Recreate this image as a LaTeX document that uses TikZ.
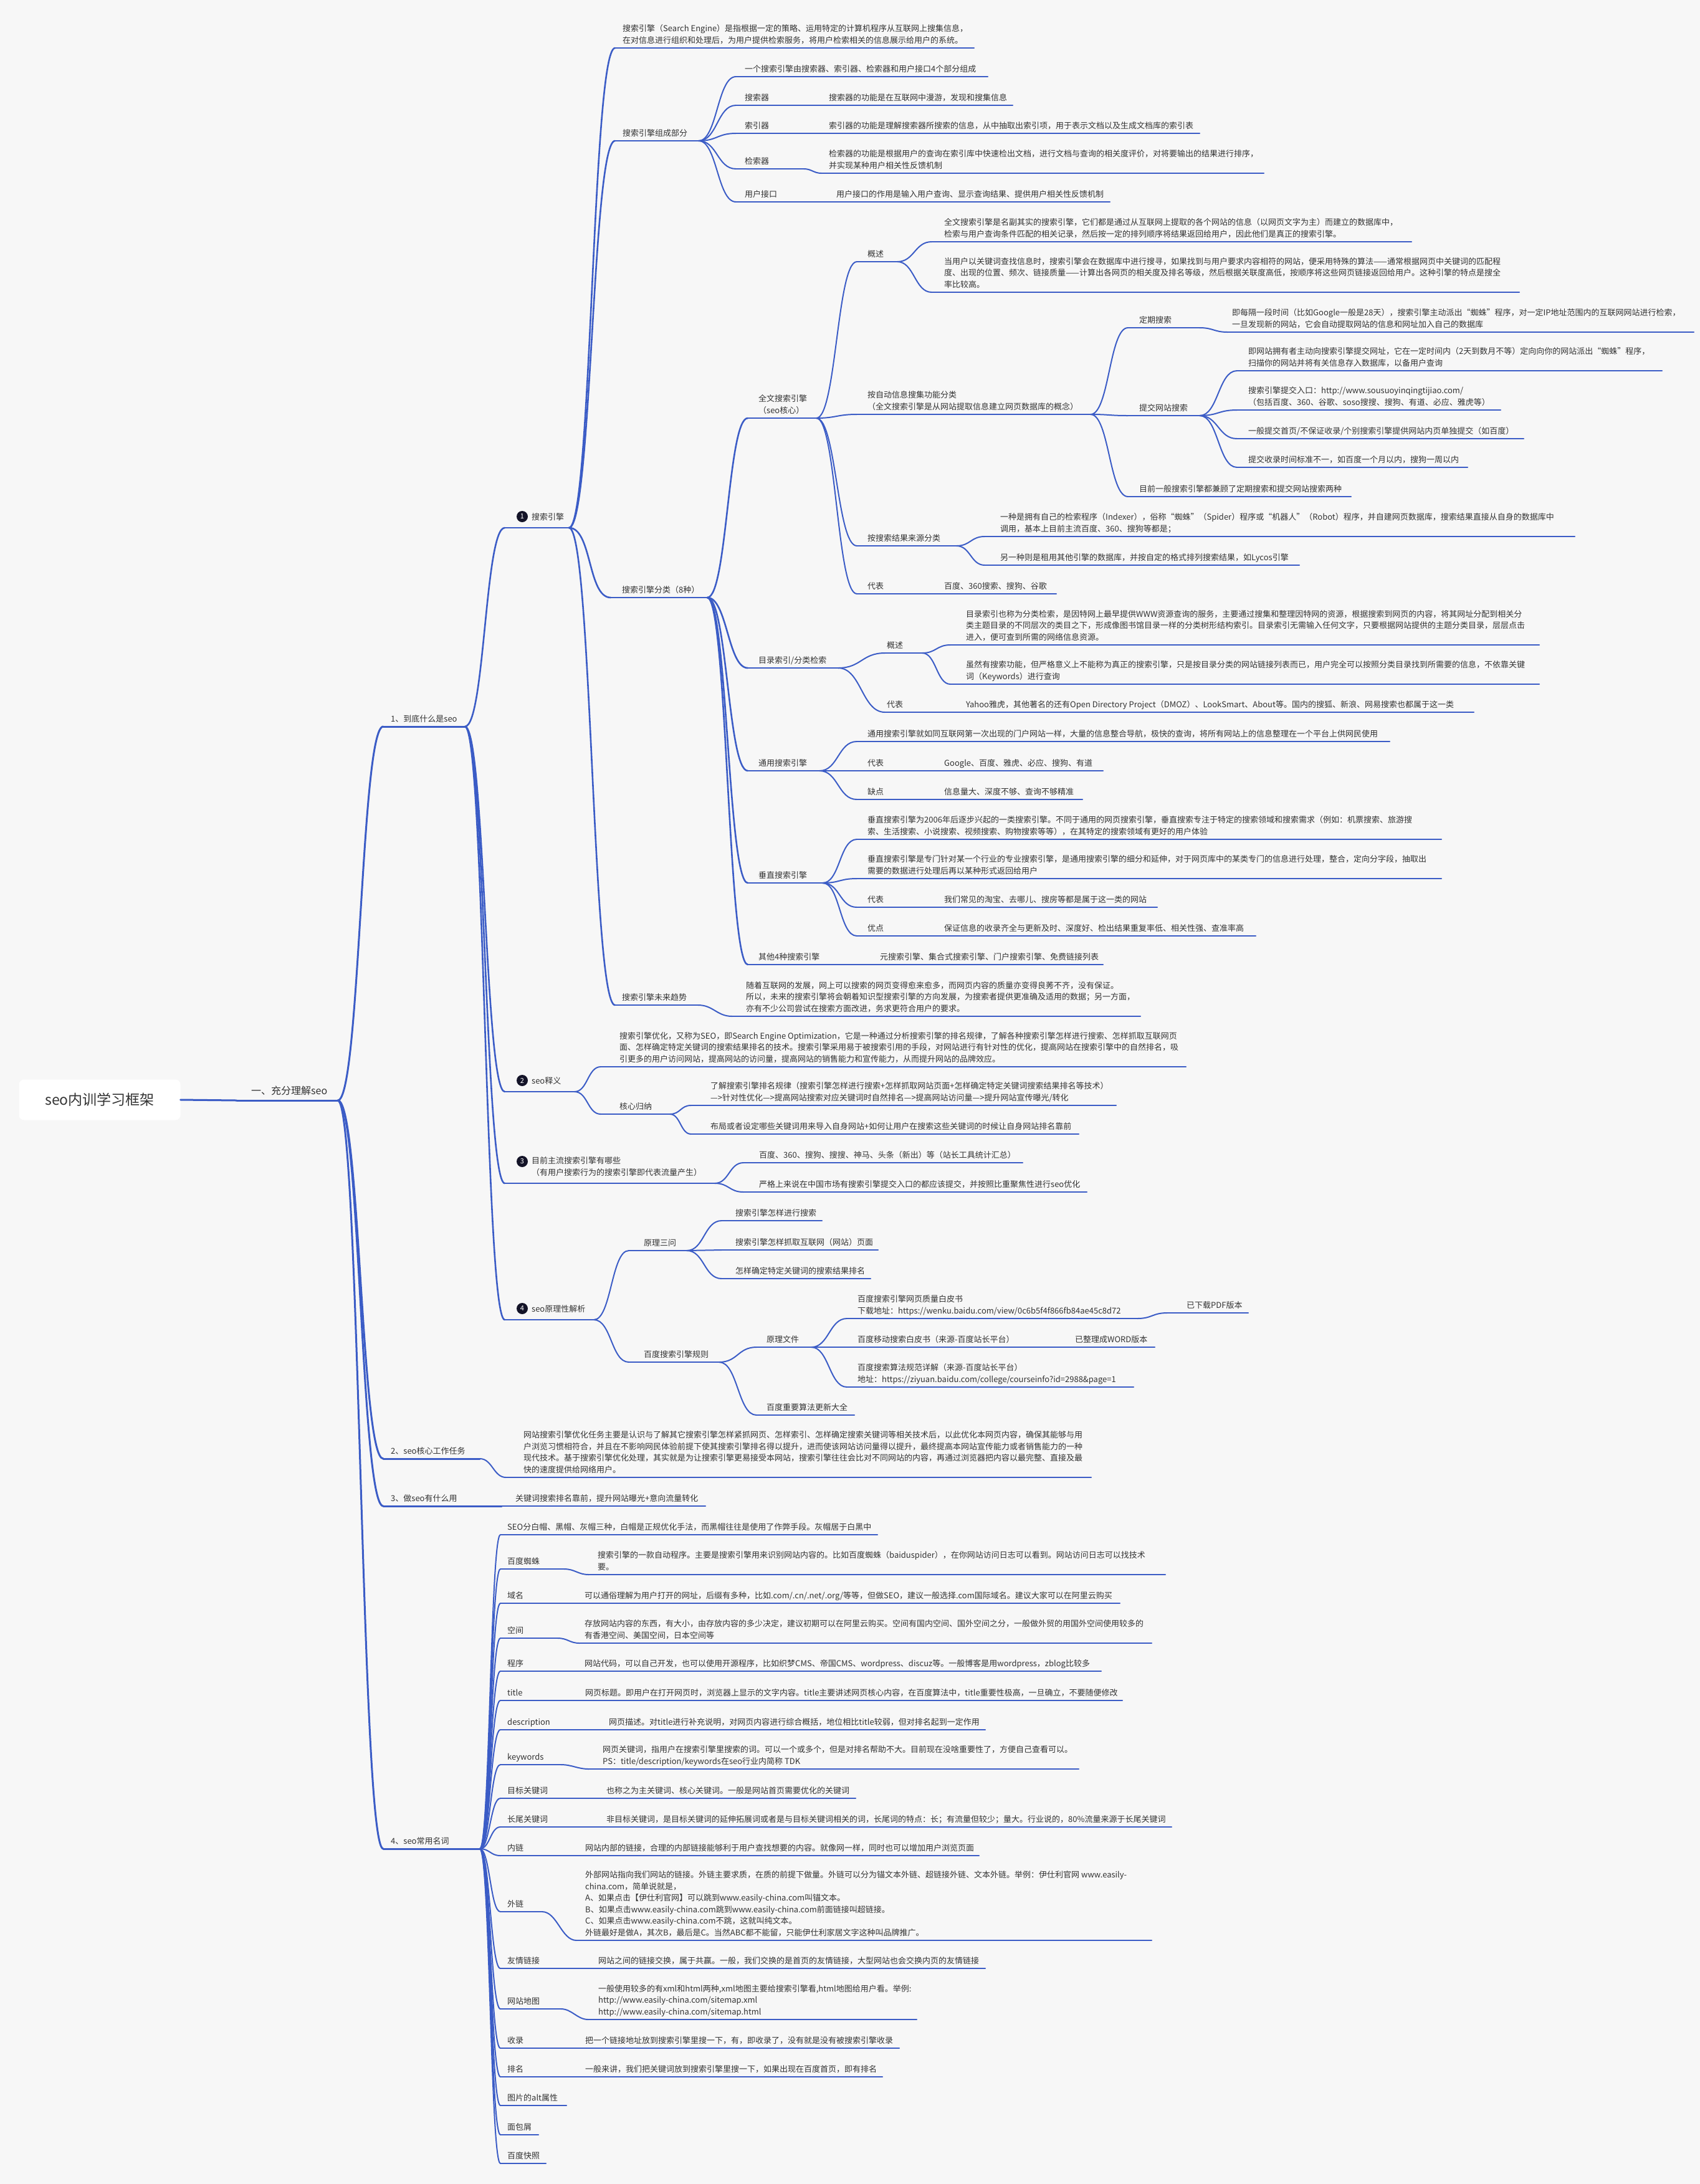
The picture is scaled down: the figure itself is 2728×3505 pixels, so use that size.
\documentclass[tikz,border=0pt]{standalone}
\usepackage{fontspec}
\setmainfont{Noto Sans CJK SC}
\usepackage{tikz}
\usetikzlibrary{calc}
\definecolor{mapblue}{HTML}{3B5CC6}
\definecolor{textgray}{HTML}{333333}
\definecolor{bgcol}{HTML}{F7F7F7}
\definecolor{badgeblack}{HTML}{141428}
% one topic: underline from xs to xe at y, text at xt
\newcommand{\topic}[7][2pt]{%
  \coordinate (#2-s) at (#3,#5);
  \coordinate (#2-e) at (#4,#5);
  \draw[uline,line width=#1] (#2-s) -- (#2-e);
  \node[lbl] (#2) at (#6,#5-2) {#7};}
% numbered topic with a black badge
\newcommand{\numtopic}[7]{%
  \coordinate (#1-s) at (#2,#4);
  \coordinate (#1-e) at (#3,#4);
  \draw[uline,line width=2.6pt] (#1-s) -- (#1-e);
  \node[badge] (#1-n) at (#2+28,#5) {#6};
  \node[lbl] (#1) at (#2+43,#4-7) {#7};}

\begin{document}
\begin{tikzpicture}[x=1pt,y=-1pt,
  uline/.style={draw=mapblue,line cap=round},
  link/.style={draw=mapblue,line width=2pt,line cap=round,
    to path={.. controls ($(\tikztostart)+(#1,0)$) and ($(\tikztotarget)+(-#1,0)$) .. (\tikztotarget)}},
  link/.default=30,
  lbl/.style={anchor=south west,inner sep=0pt,align=left,text=textgray,
    font=\fontsize{13}{18.5}\selectfont,execute at end node=\strut},
  badge/.style={circle,fill=badgeblack,text=white,inner sep=0pt,minimum size=18pt,
    font=\fontsize{11}{11}\selectfont},
  rootbox/.style={fill=white,rounded corners=8pt,minimum width=259pt,minimum height=65pt,
    text=textgray,font=\fontsize{23}{26}\selectfont}]
\useasboundingbox (0,0) rectangle (2728,3505);
\fill[bgcol] (0,0) rectangle (2728,3505);

% root and first level
\node[rootbox] (root) at (160,1765) {seo内训学习框架};
\coordinate (L1-s) at (380,1766);
\coordinate (L1-e) at (542,1766);
\draw[uline,line width=3pt] (L1-s) -- (L1-e);
\node[lbl,font=\fontsize{16}{20}\selectfont] (L1) at (403,1763) {一、充分理解seo};
\draw[uline,line width=3pt] (root.east) -- (L1-s);

% second level
\topic[3pt]{A}{615}{746}{1166}{627}{1、到底什么是seo}
\topic[3pt]{B}{615}{770}{2341}{627}{2、seo核心工作任务}
\topic[3pt]{C}{615}{805}{2417}{627}{3、做seo有什么用}
\topic[3pt]{D}{615}{770}{2967}{627}{4、seo常用名词}
\foreach \n in {A,B,C,D} \draw[link=36,line width=3pt] (L1-e) to (\n-s);

% 1、到底什么是seo
\numtopic{S1}{810}{913}{847}{829}{1}{搜索引擎}
\numtopic{S2}{810}{922}{1752}{1734}{2}{seo释义}
\numtopic{S3}{810}{1147}{1899}{1864}{3}{目前主流搜索引擎有哪些\\（有用户搜索行为的搜索引擎即代表流量产生）}
\numtopic{S4}{810}{953}{2118}{2100}{4}{seo原理性解析}
\foreach \n in {S1,S2,S3,S4} \draw[link=32,line width=2.6pt] (A-e) to (\n-s);

% 搜索引擎
\topic{def}{987}{1563}{77}{999}{搜索引擎（Search Engine）是指根据一定的策略、运用特定的计算机程序从互联网上搜集信息，\\在对信息进行组织和处理后，为用户提供检索服务，将用户检索相关的信息展示给用户的系统。}
\topic[2.6pt]{comp}{987}{1121}{226}{999}{搜索引擎组成部分}
\topic[2.6pt]{cls}{980}{1135}{959}{998}{搜索引擎分类（8种）}
\topic{trend}{987}{1120}{1613}{998}{搜索引擎未来趋势}
\topic{trendd}{1175}{1830}{1631}{1197}{随着互联网的发展，网上可以搜索的网页变得愈来愈多，而网页内容的质量亦变得良莠不齐，没有保证。\\所以，未来的搜索引擎将会朝着知识型搜索引擎的方向发展，为搜索者提供更准确及适用的数据；另一方面，\\亦有不少公司尝试在搜索方面改进，务求更符合用户的要求。}
\foreach \n in {def,comp,cls,trend} \draw[link=37,line width=2.6pt] (S1-e) to (\n-s);
\draw[link=25] (trend-e) to (trendd-s);

% 组成部分
\topic{c1}{1181}{1585}{123}{1195}{一个搜索引擎由搜索器、索引器、检索器和用户接口4个部分组成}
\topic{c2}{1181}{1318}{169}{1195}{搜索器}
\topic{c2d}{1318}{1625}{169}{1330}{搜索器的功能是在互联网中漫游，发现和搜集信息}
\topic{c3}{1181}{1318}{214}{1195}{索引器}
\topic{c3d}{1318}{1925}{214}{1330}{索引器的功能是理解搜索器所搜索的信息，从中抽取出索引项，用于表示文档以及生成文档库的索引表}
\topic{c4}{1181}{1290}{271}{1195}{检索器}
\topic{c4d}{1318}{2028}{278}{1330}{检索器的功能是根据用户的查询在索引库中快速检出文档，进行文档与查询的相关度评价，对将要输出的结果进行排序，\\并实现某种用户相关性反馈机制}
\topic{c5}{1181}{1330}{324}{1195}{用户接口}
\topic{c5d}{1330}{1781}{324}{1342}{用户接口的作用是输入用户查询、显示查询结果、提供用户相关性反馈机制}
\foreach \n in {c1,c2,c3,c4,c5} \draw[link=30] (comp-e) to (\n-s);
\draw[link=12] (c4-e) to (c4d-s);

% 分类
\topic[2.6pt]{ft}{1200}{1310}{671}{1217}{全文搜索引擎\\（seo核心）}
\topic[2.6pt]{dir}{1200}{1345}{1072}{1217}{目录索引/分类检索}
\topic[2.6pt]{gen}{1200}{1315}{1237}{1217}{通用搜索引擎}
\topic[2.6pt]{vert}{1200}{1320}{1417}{1217}{垂直搜索引擎}
\topic{oth}{1200}{1400}{1548}{1217}{其他4种搜索引擎}
\topic{othd}{1400}{1770}{1548}{1412}{元搜索引擎、集合式搜索引擎、门户搜索引擎、免费链接列表}
\foreach \n in {ft,dir,gen,vert,oth} \draw[link=32,line width=2.6pt] (cls-e) to (\n-s);

% 全文搜索引擎
\topic{ft1}{1375}{1440}{420}{1392}{概述}
\topic{ft2}{1375}{1750}{665}{1392}{按自动信息搜集功能分类\\（全文搜索引擎是从网站提取信息建立网页数据库的概念）}
\topic{ft3}{1375}{1535}{876}{1392}{按搜索结果来源分类}
\topic{ft4}{1375}{1500}{953}{1392}{代表}
\topic{ft4d}{1500}{1695}{953}{1515}{百度、360搜索、搜狗、谷歌}
\foreach \n in {ft1,ft2,ft3,ft4} \draw[link=32] (ft-e) to (\n-s);
\topic{ft1a}{1495}{2265}{388}{1515}{全文搜索引擎是名副其实的搜索引擎，它们都是通过从互联网上提取的各个网站的信息（以网页文字为主）而建立的数据库中，\\检索与用户查询条件匹配的相关记录，然后按一定的排列顺序将结果返回给用户，因此他们是真正的搜索引擎。}
\topic{ft1b}{1495}{2438}{469}{1515}{当用户以关键词查找信息时，搜索引擎会在数据库中进行搜寻，如果找到与用户要求内容相符的网站，便采用特殊的算法——通常根据网页中关键词的匹配程\\度、出现的位置、频次、链接质量——计算出各网页的相关度及排名等级，然后根据关联度高低，按顺序将这些网页链接返回给用户。这种引擎的特点是搜全\\率比较高。}
\foreach \n in {ft1a,ft1b} \draw[link=27] (ft1-e) to (\n-s);
\topic{ft2a}{1810}{1925}{526}{1828}{定期搜索}
\topic{ft2ad}{1970}{2718}{533}{1977}{即每隔一段时间（比如Google一般是28天），搜索引擎主动派出“蜘蛛”程序，对一定IP地址范围内的互联网网站进行检索，\\一旦发现新的网站，它会自动提取网站的信息和网址加入自己的数据库}
\draw[link=22] (ft2a-e) to (ft2ad-s);
\topic{ft2b}{1810}{1925}{667}{1828}{提交网站搜索}
\topic{ft2c}{1810}{2168}{797}{1828}{目前一般搜索引擎都兼顾了定期搜索和提交网站搜索两种}
\foreach \n in {ft2a,ft2b,ft2c} \draw[link=30] (ft2-e) to (\n-s);
\topic{sb1}{1985}{2667}{595}{2003}{即网站拥有者主动向搜索引擎提交网址，它在一定时间内（2天到数月不等）定向向你的网站派出“蜘蛛”程序，\\扫描你的网站并将有关信息存入数据库，以备用户查询}
\topic{sb2}{1985}{2408}{658}{2003}{搜索引擎提交入口：http://www.sousuoyinqingtijiao.com/\\（包括百度、360、谷歌、soso搜搜、搜狗、有道、必应、雅虎等）}
\topic{sb3}{1985}{2445}{704}{2003}{一般提交首页/不保证收录/个别搜索引擎提供网站内页单独提交（如百度）}
\topic{sb4}{1985}{2355}{750}{2003}{提交收录时间标准不一，如百度一个月以内，搜狗一周以内}
\foreach \n in {sb1,sb2,sb3,sb4} \draw[link=30] (ft2b-e) to (\n-s);
\topic{ft3a}{1580}{2527}{861}{1605}{一种是拥有自己的检索程序（Indexer），俗称“蜘蛛”（Spider）程序或“机器人”（Robot）程序，并自建网页数据库，搜索结果直接从自身的数据库中\\调用，基本上目前主流百度、360、搜狗等都是；}
\topic{ft3b}{1580}{2085}{907}{1605}{另一种则是租用其他引擎的数据库，并按自定的格式排列搜索结果，如Lycos引擎}
\foreach \n in {ft3a,ft3b} \draw[link=22] (ft3-e) to (\n-s);

% 目录索引
\topic{dir1}{1420}{1480}{1048}{1423}{概述}
\topic{dir2}{1420}{1540}{1143}{1423}{代表}
\topic{dir2d}{1540}{2365}{1143}{1550}{Yahoo雅虎，其他著名的还有Open Directory Project（DMOZ）、LookSmart、About等。国内的搜狐、新浪、网易搜索也都属于这一类}
\foreach \n in {dir1,dir2} \draw[link=37] (dir-e) to (\n-s);
\topic{dir1a}{1525}{2470}{1035}{1550}{目录索引也称为分类检索，是因特网上最早提供WWW资源查询的服务，主要通过搜集和整理因特网的资源，根据搜索到网页的内容，将其网址分配到相关分\\类主题目录的不同层次的类目之下，形成像图书馆目录一样的分类树形结构索引。目录索引无需输入任何文字，只要根据网站提供的主题分类目录，层层点击\\进入，便可查到所需的网络信息资源。}
\topic{dir1b}{1525}{2470}{1098}{1550}{虽然有搜索功能，但严格意义上不能称为真正的搜索引擎，只是按目录分类的网站链接列表而已，用户完全可以按照分类目录找到所需要的信息，不依靠关键\\词（Keywords）进行查询}
\foreach \n in {dir1a,dir1b} \draw[link=22] (dir1-e) to (\n-s);

% 通用搜索引擎
\topic{gen1}{1375}{2230}{1190}{1392}{通用搜索引擎就如同互联网第一次出现的门户网站一样，大量的信息整合导航，极快的查询，将所有网站上的信息整理在一个平台上供网民使用}
\topic{gen2}{1375}{1500}{1237}{1392}{代表}
\topic{gen2d}{1500}{1770}{1237}{1515}{Google、百度、雅虎、必应、搜狗、有道}
\topic{gen3}{1375}{1500}{1283}{1392}{缺点}
\topic{gen3d}{1500}{1737}{1283}{1515}{信息量大、深度不够、查询不够精准}
\foreach \n in {gen1,gen2,gen3} \draw[link=30] (gen-e) to (\n-s);

% 垂直搜索引擎
\topic{v1}{1375}{2313}{1347}{1392}{垂直搜索引擎为2006年后逐步兴起的一类搜索引擎。不同于通用的网页搜索引擎，垂直搜索专注于特定的搜索领域和搜索需求（例如：机票搜索、旅游搜\\索、生活搜索、小说搜索、视频搜索、购物搜索等等），在其特定的搜索领域有更好的用户体验}
\topic{v2}{1375}{2313}{1410}{1392}{垂直搜索引擎是专门针对某一个行业的专业搜索引擎，是通用搜索引擎的细分和延伸，对于网页库中的某类专门的信息进行处理，整合，定向分字段，抽取出\\需要的数据进行处理后再以某种形式返回给用户}
\topic{v3}{1375}{1500}{1456}{1392}{代表}
\topic{v3d}{1500}{1857}{1456}{1515}{我们常见的淘宝、去哪儿、搜房等都是属于这一类的网站}
\topic{v4}{1375}{1500}{1502}{1392}{优点}
\topic{v4d}{1500}{2015}{1502}{1515}{保证信息的收录齐全与更新及时、深度好、检出结果重复率低、相关性强、查准率高}
\foreach \n in {v1,v2,v3,v4} \draw[link=28] (vert-e) to (\n-s);

% seo释义
\topic{s2a}{964}{1903}{1712}{994}{搜索引擎优化，又称为SEO，即Search Engine Optimization，它是一种通过分析搜索引擎的排名规律，了解各种搜索引擎怎样进行搜索、怎样抓取互联网页\\面、怎样确定特定关键词的搜索结果排名的技术。搜索引擎采用易于被搜索引用的手段，对网站进行有针对性的优化，提高网站在搜索引擎中的自然排名，吸\\引更多的用户访问网站，提高网站的访问量，提高网站的销售能力和宣传能力，从而提升网站的品牌效应。}
\topic{s2b}{964}{1075}{1788}{994}{核心归纳}
\foreach \n in {s2a,s2b} \draw[link=21] (S2-e) to (\n-s);
\topic{s2b1}{1109}{1791}{1774}{1140}{了解搜索引擎排名规律（搜索引擎怎样进行搜索+怎样抓取网站页面+怎样确定特定关键词搜索结果排名等技术）\\—>针对性优化—>提高网站搜索对应关键词时自然排名—>提高网站访问量—>提升网站宣传曝光/转化}
\topic{s2b2}{1109}{1731}{1820}{1140}{布局或者设定哪些关键词用来导入自身网站+如何让用户在搜索这些关键词的时候让自身网站排名靠前}
\foreach \n in {s2b1,s2b2} \draw[link=17] (s2b-e) to (\n-s);

% 主流搜索引擎
\topic{s3a}{1193}{1641}{1866}{1218}{百度、360、搜狗、搜搜、神马、头条（新出）等（站长工具统计汇总）}
\topic{s3b}{1193}{1744}{1913}{1218}{严格上来说在中国市场有搜索引擎提交入口的都应该提交，并按照比重聚焦性进行seo优化}
\foreach \n in {s3a,s3b} \draw[link=23] (S3-e) to (\n-s);

% seo原理性解析
\topic{s4a}{1009}{1102}{2007}{1033}{原理三问}
\topic{s4b}{1009}{1154}{2186}{1033}{百度搜索引擎规则}
\foreach \n in {s4a,s4b} \draw[link=28] (S4-e) to (\n-s);
\topic{q1}{1158}{1319}{1959}{1180}{搜索引擎怎样进行搜索}
\topic{q2}{1158}{1409}{2006}{1180}{搜索引擎怎样抓取互联网（网站）页面}
\topic{q3}{1158}{1397}{2052}{1180}{怎样确定特定关键词的搜索结果排名}
\foreach \n in {q1,q2,q3} \draw[link=28] (s4a-e) to (\n-s);
\topic{r1}{1214}{1302}{2162}{1230}{原理文件}
\topic{r2}{1214}{1371}{2271}{1230}{百度重要算法更新大全}
\foreach \n in {r1,r2} \draw[link=30] (s4b-e) to (\n-s);
\topic{r1a}{1359}{1825}{2116}{1376}{百度搜索引擎网页质量白皮书\\下载地址：https://wenku.baidu.com/view/0c6b5f4f866fb84ae45c8d72}
\topic{r1ad}{1873}{2003}{2107}{1904}{已下载PDF版本}
\draw[link=24] (r1a-e) to (r1ad-s);
\topic{r1b}{1359}{1700}{2162}{1376}{百度移动搜索白皮书（来源-百度站长平台）}
\topic{r1bd}{1700}{1853}{2162}{1725}{已整理成WORD版本}
\topic{r1c}{1359}{1819}{2226}{1376}{百度搜索算法规范详解（来源-百度站长平台）\\地址：https://ziyuan.baidu.com/college/courseinfo?id=2988\&page=1}
\foreach \n in {r1a,r1b,r1c} \draw[link=28] (r1-e) to (\n-s);

% 2、3、
\topic{Bd}{812}{1751}{2371}{840}{网站搜索引擎优化任务主要是认识与了解其它搜索引擎怎样紧抓网页、怎样索引、怎样确定搜索关键词等相关技术后，以此优化本网页内容，确保其能够与用\\户浏览习惯相符合，并且在不影响网民体验前提下使其搜索引擎排名得以提升，进而使该网站访问量得以提升，最终提高本网站宣传能力或者销售能力的一种\\现代技术。基于搜索引擎优化处理，其实就是为让搜索引擎更易接受本网站，搜索引擎往往会比对不同网站的内容，再通过浏览器把内容以最完整、直接及最\\快的速度提供给网络用户。}
\draw[link=20] (B-e) to (Bd-s);
\topic{Cd}{805}{1132}{2417}{827}{关键词搜索排名靠前，提升网站曝光+意向流量转化}

% 4、seo常用名词
\topic{n1}{803}{1408}{2463}{814}{SEO分白帽、黑帽、灰帽三种，白帽是正规优化手法，而黑帽往往是使用了作弊手段。灰帽居于白黑中}
\topic{n2}{803}{905}{2518}{814}{百度蜘蛛}
\topic{n2d}{945}{1870}{2527}{959}{搜索引擎的一款自动程序。主要是搜索引擎用来识别网站内容的。比如百度蜘蛛（baiduspider），在你网站访问日志可以看到。网站访问日志可以找技术\\要。}
\draw[link=18] (n2-e) to (n2d-s);
\topic{n3}{803}{925}{2573}{814}{域名}
\topic{n3d}{925}{1797}{2573}{938}{可以通俗理解为用户打开的网址，后缀有多种，比如.com/.cn/.net/.org/等等，但做SEO，建议一般选择.com国际域名。建议大家可以在阿里云购买}
\topic{n4}{803}{895}{2629}{814}{空间}
\topic{n4d}{930}{1848}{2637}{938}{存放网站内容的东西，有大小，由存放内容的多少决定，建议初期可以在阿里云购买。空间有国内空间、国外空间之分，一般做外贸的用国外空间使用较多的\\有香港空间、美国空间，日本空间等}
\draw[link=16] (n4-e) to (n4d-s);
\topic{n5}{803}{925}{2682}{814}{程序}
\topic{n5d}{925}{1767}{2682}{938}{网站代码，可以自己开发，也可以使用开源程序，比如织梦CMS、帝国CMS、wordpress、discuz等。一般博客是用wordpress，zblog比较多}
\topic{n6}{803}{925}{2729}{814}{title}
\topic{n6d}{925}{1801}{2729}{939}{网页标题。即用户在打开网页时，浏览器上显示的文字内容。title主要讲述网页核心内容，在百度算法中，title重要性极高，一旦确立，不要随便修改}
\topic{n7}{803}{965}{2776}{814}{description}
\topic{n7d}{965}{1581}{2776}{977}{网页描述。对title进行补充说明，对网页内容进行综合概括，地位相比title较弱，但对排名起到一定作用}
\topic{n8}{803}{900}{2832}{814}{keywords}
\topic{n8d}{945}{1731}{2839}{967}{网页关键词，指用户在搜索引擎里搜索的词。可以一个或多个，但是对排名帮助不大。目前现在没啥重要性了，方便自己查看可以。\\PS：title/description/keywords在seo行业内简称 TDK}
\draw[link=18] (n8-e) to (n8d-s);
\topic{n9}{803}{960}{2886}{814}{目标关键词}
\topic{n9d}{960}{1373}{2886}{973}{也称之为主关键词、核心关键词。一般是网站首页需要优化的关键词}
\topic{n10}{803}{960}{2932}{814}{长尾关键词}
\topic{n10d}{960}{1880}{2932}{973}{非目标关键词，是目标关键词的延伸拓展词或者是与目标关键词相关的词，长尾词的特点：长；有流量但较少；量大。行业说的，80\%流量来源于长尾关键词}
\topic{n11}{803}{925}{2978}{814}{内链}
\topic{n11d}{925}{1571}{2978}{939}{网站内部的链接，合理的内部链接能够利于用户查找想要的内容。就像网一样，同时也可以增加用户浏览页面}
\topic{n12}{803}{870}{3068}{814}{外链}
\topic{n12d}{925}{1848}{3114}{939}{外部网站指向我们网站的链接。外链主要求质，在质的前提下做量。外链可以分为锚文本外链、超链接外链、文本外链。举例：伊仕利官网 www.easily-\\china.com，简单说就是，\\A、如果点击【伊仕利官网】可以跳到www.easily-china.com叫锚文本。\\B、如果点击www.easily-china.com跳到www.easily-china.com前面链接叫超链接。\\C、如果点击www.easily-china.com不跳，这就叫纯文本。\\外链最好是做A，其次B，最后是C。当然ABC都不能留，只能伊仕利家居文字这种叫品牌推广。}
\draw[link=24] (n12-e) to (n12d-s);
\topic{n13}{803}{948}{3159}{814}{友情链接}
\topic{n13d}{948}{1581}{3159}{960}{网站之间的链接交换，属于共赢。一般，我们交换的是首页的友情链接，大型网站也会交换内页的友情链接}
\topic{n14}{803}{900}{3224}{814}{网站地图}
\topic{n14d}{944}{1471}{3241}{960}{一般使用较多的有xml和html两种,xml地图主要给搜索引擎看,html地图给用户看。举例:\\http://www.easily-china.com/sitemap.xml\\http://www.easily-china.com/sitemap.html}
\draw[link=18] (n14-e) to (n14d-s);
\topic{n15}{803}{925}{3287}{814}{收录}
\topic{n15d}{925}{1443}{3287}{939}{把一个链接地址放到搜索引擎里搜一下，有，即收录了，没有就是没有被搜索引擎收录}
\topic{n16}{803}{925}{3333}{814}{排名}
\topic{n16d}{925}{1416}{3333}{939}{一般来讲，我们把关键词放到搜索引擎里搜一下，如果出现在百度首页，即有排名}
\topic{n17}{803}{909}{3379}{814}{图片的alt属性}
\topic{n18}{803}{864}{3426}{814}{面包屑}
\topic{n19}{803}{876}{3472}{814}{百度快照}
\foreach \n in {n1,n2,n3,n4,n5,n6,n7,n8,n9,n10,n11,n12,n13,n14,n15,n16,n17,n18,n19}
  \draw[link=16] (D-e) to (\n-s);
\end{tikzpicture}
\end{document}
